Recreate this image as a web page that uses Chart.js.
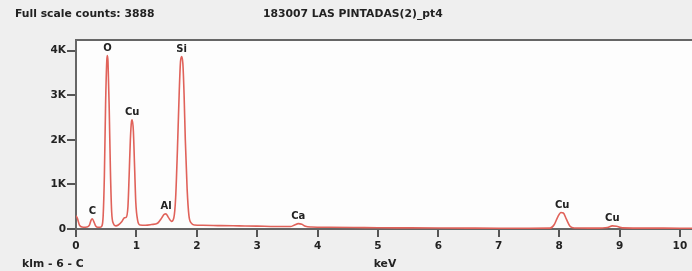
<!DOCTYPE html>
<html lang="en">
<head>
  <meta charset="UTF-8">
  <title>EDS spectrum</title>
  <style>
    body { margin: 0; background: #efefef; }
    #wrap { position: relative; width: 692px; height: 271px; }
  </style>
  <script src="https://cdn.jsdelivr.net/npm/chart.js"></script>
</head>
<body>
  <div id="wrap"><canvas id="spectrum" width="692" height="271"></canvas></div>

  <script>
    // spectrum (keV, counts)
    const energies = [0.00, 0.02, 0.06, 0.12, 0.18, 0.22, 0.25, 0.27, 0.30, 0.33, 0.36,
      0.40, 0.43, 0.45, 0.47, 0.49, 0.51, 0.52, 0.53, 0.55, 0.57, 0.59, 0.62, 0.66,
      0.70, 0.76, 0.80, 0.83, 0.86, 0.88, 0.90, 0.92, 0.93, 0.95, 0.97, 0.99, 1.02, 1.06,
      1.15, 1.25, 1.35, 1.42, 1.46, 1.49, 1.53, 1.58,
      1.62, 1.65, 1.68, 1.71, 1.73, 1.75, 1.77, 1.79, 1.81, 1.84, 1.87, 1.91, 1.96,
      2.10, 2.40, 2.70, 3.00, 3.30, 3.55, 3.62, 3.68, 3.74, 3.80, 3.90, 4.20, 4.60,
      5.00, 5.50, 6.00, 6.50, 7.00, 7.50, 7.85, 7.92, 7.98, 8.03, 8.07, 8.12, 8.18, 8.25,
      8.60, 8.80, 8.88, 8.95, 9.05, 9.50, 10.00, 10.20];
    const counts = [300, 250, 80, 40, 45, 80, 200, 230, 150, 60, 40,
      40, 70, 300, 1200, 2800, 3780, 3890, 3750, 2700, 1300, 400, 120, 70,
      90, 170, 250, 260, 500, 1200, 2000, 2420, 2450, 2200, 1400, 600, 200, 90,
      85, 100, 130, 250, 330, 340, 260, 170,
      250, 700, 1800, 3100, 3750, 3870, 3700, 3000, 2000, 900, 300, 130, 90,
      85, 75, 70, 65, 55, 55, 90, 120, 105, 60, 45, 40, 35,
      28, 25, 22, 20, 18, 17, 20, 100, 280, 370, 360, 220, 60, 22,
      20, 35, 70, 60, 25, 20, 18, 18];

    // element markers
    const peakNames = ['C', 'O', 'Cu', 'Al', 'Si', 'Ca', 'Cu', 'Cu'];
    const peakEnergies = [0.27, 0.52, 0.93, 1.49, 1.75, 3.68, 8.05, 8.88];
    const peakHeights = [230, 3890, 2450, 340, 3870, 120, 370, 70];

    const xTicks = [0, 1, 2, 3, 4, 5, 6, 7, 8, 9, 10];
    const yTicks = [0, 1000, 2000, 3000, 4000];
    const yTickLabels = ['0', '1K', '2K', '3K', '4K'];

    const headerLeft = 'Full scale counts: 3888';
    const headerTitle = '183007 LAS PINTADAS(2)_pt4';
    const footLeft = 'klm - 6 - C';
    const xTitle = 'keV';

    const FONT = 'DejaVu Sans';

    const decorations = {
      id: 'decorations',
      beforeDraw(chart) {
        const { ctx, chartArea: a } = chart;
        ctx.save();
        ctx.fillStyle = '#fdfdfd';
        ctx.fillRect(a.left, a.top, a.right - a.left, a.bottom - a.top);
        ctx.restore();
      },
      afterDraw(chart) {
        const { ctx, chartArea: a, scales } = chart;
        ctx.save();
        // top frame line
        ctx.strokeStyle = '#666';
        ctx.lineWidth = 2;
        ctx.beginPath();
        ctx.moveTo(a.left, a.top);
        ctx.lineTo(a.right, a.top);
        ctx.stroke();

        ctx.fillStyle = '#222';
        ctx.font = 'bold 10.8px "' + FONT + '"';
        ctx.textBaseline = 'alphabetic';
        ctx.textAlign = 'left';
        ctx.fillText(headerLeft, 15, 17);
        ctx.fillText(headerTitle, 263, 17);
        ctx.fillText(footLeft, 22, 267);
        ctx.textAlign = 'center';
        ctx.fillText(xTitle, 385, 267);

        // peak labels
        ctx.textBaseline = 'bottom';
        ctx.font = 'bold 10px "' + FONT + '"';
        peakNames.forEach((n, i) => {
          const px = scales.x.getPixelForValue(peakEnergies[i]);
          const py = scales.y.getPixelForValue(peakHeights[i]);
          ctx.fillText(n, px, py - 2);
        });
        ctx.restore();
      }
    };

    new Chart(document.getElementById('spectrum'), {
      type: 'line',
      data: {
        datasets: [{
          data: energies.map((e, i) => ({ x: e, y: counts[i] })),
          borderColor: '#e0625a',
          borderWidth: 1.6,
          pointRadius: 0,
          fill: false,
          cubicInterpolationMode: 'monotone'
        }]
      },
      options: {
        responsive: false,
        animation: false,
        layout: { padding: { top: 40, right: 0, left: 0, bottom: 0 } },
        plugins: { legend: { display: false }, tooltip: { enabled: false } },
        scales: {
          x: {
            type: 'linear',
            min: 0,
            max: 10.2,
            afterBuildTicks: s => { s.ticks = xTicks.map(v => ({ value: v })); },
            afterFit: s => { s.height = 42; },
            grid: { display: true, drawOnChartArea: false, drawTicks: true, tickLength: 8, color: '#555', lineWidth: 2 },
            border: { display: true, color: '#666', width: 2 },
            ticks: {
              color: '#222',
              padding: 3,
              maxRotation: 0,
              font: { family: FONT, size: 10.5, weight: 'bold' },
              callback: v => String(v)
            }
          },
          y: {
            min: 0,
            max: 4240,
            afterBuildTicks: s => { s.ticks = yTicks.map(v => ({ value: v })); },
            afterFit: s => { s.width = 76; },
            grid: { display: true, drawOnChartArea: false, drawTicks: true, tickLength: 9, color: '#555', lineWidth: 2 },
            border: { display: true, color: '#666', width: 2 },
            ticks: {
              color: '#222',
              padding: 1,
              font: { family: FONT, size: 10.5, weight: 'bold' },
              callback: v => yTickLabels[yTicks.indexOf(v)]
            }
          }
        }
      },
      plugins: [decorations]
    });
  </script>
</body>
</html>
